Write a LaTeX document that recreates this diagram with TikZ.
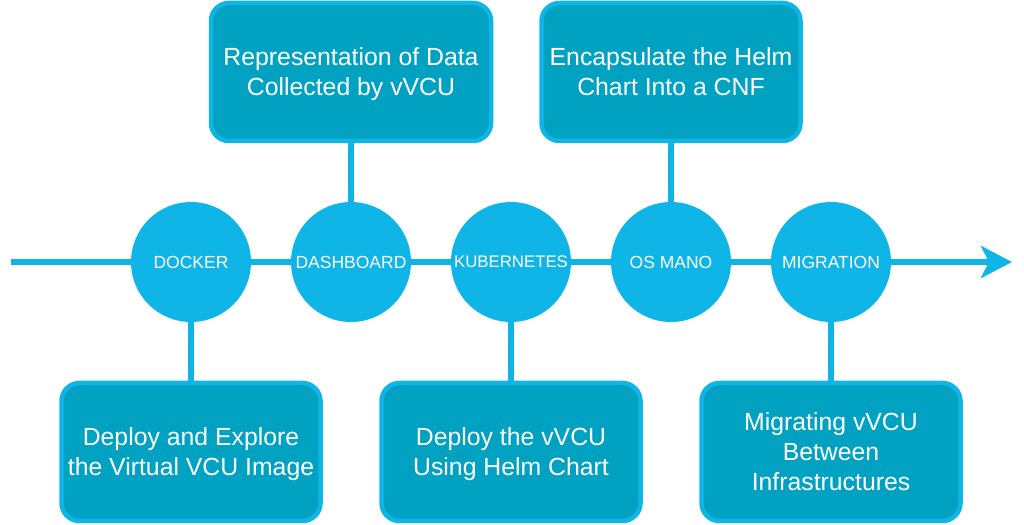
\documentclass[tikz,border=0pt]{standalone}
\usepackage{fontspec}
\setmainfont{Liberation Sans}
\usepackage{xcolor}
\usepackage{tikz}
\usetikzlibrary{arrows.meta,shapes}

\definecolor{lineblue}{RGB}{14,181,230}
\definecolor{boxteal}{RGB}{1,161,194}

\begin{document}
\begin{tikzpicture}[>={Stealth[length=31bp,width=32bp,inset=8bp]},
	line/.style={draw=lineblue,line width=6.5bp},
	stage/.style={circle,fill=lineblue,minimum size=120bp,inner sep=0pt,text=white,font=\fontsize{17.5bp}{20bp}\selectfont},
	task/.style={rectangle,rounded corners=18bp,draw=lineblue,line width=4.5bp,fill=boxteal,text=white,minimum width=259bp,minimum height=138bp,align=center,font=\fontsize{24.8bp}{30bp}\selectfont,text depth=0bp}]
	\useasboundingbox (0bp,0bp) rectangle (1024bp,525bp);

	\coordinate (start) at (11bp,263bp);
	\coordinate (end)   at (1012bp,263bp);

	\node[stage] (DOCKER)    at (191bp,263bp) {DOCKER};
	\node[stage] (DASHBOARD) at (351bp,263bp) {DASHBOARD};
	\node[stage,font=\fontsize{16.8bp}{20bp}\selectfont] (KUBERNETES) at (511bp,263bp) {KUBERNETES};
	\node[stage] (OSMANO)    at (671bp,263bp) {OS MANO};
	\node[stage] (MIGRATION) at (831bp,263bp) {MIGRATION};

	\node[task,minimum width=280bp] (DATA) at (351bp,453bp) {Representation of Data\\Collected by vVCU};
	\node[task] (CNF)     at (671bp,453bp) {Encapsulate the Helm\\Chart Into a CNF};
	\node[task] (EXPLORE) at (191bp,73bp)  {Deploy and Explore\\the Virtual VCU Image};
	\node[task] (HELM)    at (511bp,73bp)  {Deploy the vVCU\\Using Helm Chart};
	\node[task] (MIGRATE) at (831bp,73bp)  {Migrating vVCU\\Between\\Infrastructures};

	\draw[line]    (start) -- (DOCKER);
	\draw[line]    (DOCKER) -- (DASHBOARD);
	\draw[line]    (DASHBOARD) -- (KUBERNETES);
	\draw[line]    (KUBERNETES) -- (OSMANO);
	\draw[line]    (OSMANO) -- (MIGRATION);
	\draw[line,->] (MIGRATION) -- (end);

	\draw[line] (DOCKER) -- (EXPLORE);
	\draw[line] (DASHBOARD) -- (DATA);
	\draw[line] (KUBERNETES) -- (HELM);
	\draw[line] (OSMANO) -- (CNF);
	\draw[line] (MIGRATION) -- (MIGRATE);
\end{tikzpicture}
\end{document}
